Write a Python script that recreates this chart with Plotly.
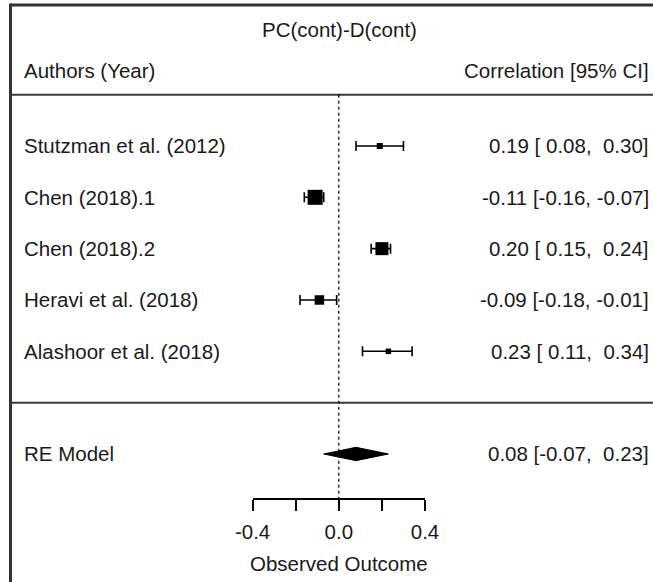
import plotly.graph_objects as go

# ---- data ----
authors = ["Stutzman et al. (2012)", "Chen (2018).1", "Chen (2018).2",
           "Heravi et al. (2018)", "Alashoor et al. (2018)"]
estimate = [0.19, -0.11, 0.20, -0.09, 0.23]
ci_low = [0.08, -0.16, 0.15, -0.18, 0.11]
ci_high = [0.30, -0.07, 0.24, -0.01, 0.34]
weights = [6, 15, 13, 9.5, 5.5]          # relative study weight (box size)
re_label = "RE Model"
re_est, re_low, re_high = 0.08, -0.07, 0.23
title_text = "PC(cont)-D(cont)"
header_left = "Authors (Year)"
header_right = "Correlation [95% CI]"
axis_title = "Observed Outcome"
tick_vals = [-0.4, -0.2, 0.0, 0.2, 0.4]
tick_text = ["-0.4", "", "0.0", "", "0.4"]

W, H = 653, 582
FONT = "Liberation Sans, Arial, sans-serif"
FS = 20.5
TXT = "#1a1a1a"
LINE = "#3a3a3a"

k = len(authors)
rows = list(range(k, 0, -1))
re_row = -1


def fmt(v):
    s = f"{v:.2f}"
    return s if v < 0 else "\u00a0" + s


def ci_text(e, lo, hi):
    return f"{e:.2f} [{fmt(lo)}, {fmt(hi)}]".replace(", \u00a0", ",\u00a0\u00a0").replace("[\u00a0", "[ ")


fig = go.Figure()

fig.add_trace(go.Scatter(
    x=estimate, y=rows, mode="markers",
    marker=dict(symbol="square", size=weights, color="black", opacity=1,
                line=dict(width=0)),
    error_x=dict(type="data", symmetric=False,
                 array=[h - e for h, e in zip(ci_high, estimate)],
                 arrayminus=[e - l for e, l in zip(estimate, ci_low)],
                 color="black", thickness=1.6, width=5),
    cliponaxis=False, hoverinfo="skip", showlegend=False))

dh = 0.13
fig.add_trace(go.Scatter(
    x=[re_low, re_est, re_high, re_est, re_low],
    y=[re_row, re_row + dh, re_row, re_row - dh, re_row],
    mode="lines", fill="toself", fillcolor="black",
    line=dict(color="black", width=1), cliponaxis=False,
    hoverinfo="skip", showlegend=False))

ann = []
for a, r in zip(authors, rows):
    ann.append(dict(x=22 / W, xref="paper", y=r, yref="y", text=a,
                    xanchor="left", yanchor="middle", showarrow=False))
for e, lo, hi, r in zip(estimate, ci_low, ci_high, rows):
    ann.append(dict(x=651 / W, xref="paper", y=r, yref="y", text=ci_text(e, lo, hi),
                    xanchor="right", yanchor="middle", showarrow=False))
ann.append(dict(x=22 / W, xref="paper", y=re_row, yref="y", text=re_label,
                xanchor="left", yanchor="middle", showarrow=False))
ann.append(dict(x=651 / W, xref="paper", y=re_row, yref="y",
                text=ci_text(re_est, re_low, re_high),
                xanchor="right", yanchor="middle", showarrow=False))
ann.append(dict(x=22 / W, xref="paper", y=6.48, yref="y", text=header_left,
                xanchor="left", yanchor="middle", showarrow=False))
ann.append(dict(x=651 / W, xref="paper", y=6.48, yref="y", text=header_right,
                xanchor="right", yanchor="middle", showarrow=False))
ann.append(dict(x=339 / W, xref="paper", y=7.26, yref="y", text=title_text,
                xanchor="center", yanchor="middle", showarrow=False))
ann.append(dict(x=0, xref="x", y=-3.124, yref="y", text=axis_title,
                xanchor="center", yanchor="middle", showarrow=False))

axis_pos = 1 - 499 / H
shapes = [
    dict(type="line", xref="paper", yref="y", x0=11 / W, x1=1, y0=k + 1, y1=k + 1,
         line=dict(color=LINE, width=2)),
    dict(type="line", xref="paper", yref="y", x0=11 / W, x1=1, y0=0, y1=0,
         line=dict(color=LINE, width=2)),
    dict(type="line", xref="x", yref="y", x0=0, x1=0, y0=k + 1, y1=-1.877,
         line=dict(color="black", width=1.2, dash="dot")),
    dict(type="line", xref="paper", yref="paper", x0=10.5 / W, x1=1, y0=1 - 5 / H, y1=1 - 5 / H,
         line=dict(color="#333333", width=3)),
    dict(type="line", xref="paper", yref="paper", x0=10.5 / W, x1=10.5 / W, y0=0, y1=1 - 3.5 / H,
         line=dict(color="#333333", width=3)),
]

fig.update_layout(
    width=W, height=H, margin=dict(l=0, r=0, t=0, b=0, pad=0, autoexpand=False),
    autosize=False,
    paper_bgcolor="white", plot_bgcolor="white",
    font=dict(family=FONT, size=FS, color=TXT),
    annotations=ann, shapes=shapes,
    xaxis=dict(domain=[252.6 / W, 425.0 / W], range=[-0.4, 0.4],
               anchor="free", position=axis_pos, automargin=False,
               showline=True, linecolor="black", linewidth=1.5,
               ticks="outside", ticklen=11, tickwidth=1.5, tickcolor="black",
               tickvals=tick_vals, ticktext=tick_text, ticklabelstandoff=4,
               tickfont=dict(family=FONT, size=FS, color=TXT),
               showgrid=False, zeroline=False, fixedrange=True),
    yaxis=dict(domain=[0, 1], range=[-3.494, 7.844], visible=False, automargin=False,
               showgrid=False, zeroline=False, fixedrange=True),
)

fig.write_html("out.html", config={"responsive": False, "displayModeBar": False})
